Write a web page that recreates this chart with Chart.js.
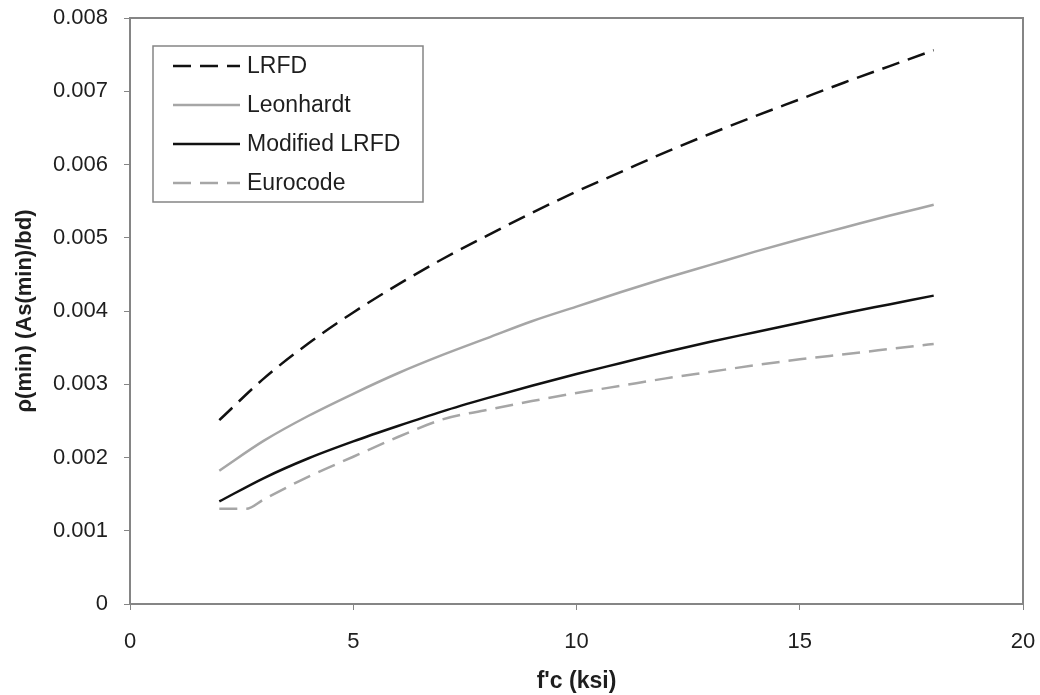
<!DOCTYPE html>
<html>
<head>
<style>
  body { margin: 0; background: #fff; }
</style>
</head>
<body>

<canvas id="myChart" width="1040" height="695"></canvas>

<script src="https://cdn.jsdelivr.net/npm/chart.js"></script>
<script>
// f'c values (ksi) and minimum reinforcement ratios
const fc = [2, 3, 4, 5, 6, 7, 8, 9, 10, 11, 12, 13, 14, 15, 16, 17, 18];
const lrfd = [0.00251, 0.00308, 0.00356, 0.00398, 0.00436, 0.00471, 0.00503, 0.00534, 0.00563,
              0.00590, 0.00617, 0.00642, 0.00666, 0.00689, 0.00712, 0.00734, 0.00756];
const leonhardt = [0.00182, 0.00223, 0.00257, 0.00287, 0.00315, 0.00340, 0.00363, 0.00386, 0.00406,
                   0.00426, 0.00445, 0.00463, 0.00481, 0.00498, 0.00514, 0.00530, 0.00545];
const modLrfd = [0.00140, 0.00172, 0.00199, 0.00222, 0.00243, 0.00263, 0.00281, 0.00298, 0.00314,
                 0.00329, 0.00344, 0.00358, 0.00371, 0.00384, 0.00397, 0.00409, 0.00421];
const fcEuro = [2, 2.6, 3, 4, 5, 6, 7, 8, 9, 10, 11, 12, 13, 14, 15, 16, 17, 18];
const eurocode = [0.00130, 0.00130, 0.00143, 0.00174, 0.00201, 0.00228, 0.00252, 0.00265, 0.00277,
                  0.00288, 0.00298, 0.00308, 0.00317, 0.00326, 0.00334, 0.00341, 0.00348, 0.00355];
const xTicks = [0, 5, 10, 15, 20];
const yTicks = [0, 0.001, 0.002, 0.003, 0.004, 0.005, 0.006, 0.007, 0.008];

const pts = (xs, ys) => xs.map((x, i) => ({x: x, y: ys[i]}));

const GRAY = '#a6a6a6';
const AXIS = '#858585';
const TEXT = '#1e1e1e';
const FONT = "'Liberation Sans', Arial, sans-serif";

// legend drawn inside the plot area with a box around it
const boxLegend = {
    id: 'boxLegend',
    afterDraw(chart) {
        const c = chart.ctx;
        const area = chart.chartArea;
        c.save();
        // frame top and right of the plot
        c.strokeStyle = AXIS;
        c.lineWidth = 2;
        c.beginPath();
        c.moveTo(area.left, area.top);
        c.lineTo(area.right, area.top);
        c.lineTo(area.right, area.bottom);
        c.stroke();

        c.fillStyle = '#fff';
        c.fillRect(153, 46, 270, 156);
        c.strokeStyle = AXIS;
        c.lineWidth = 1.5;
        c.strokeRect(153, 46, 270, 156);
        c.font = '23px ' + FONT;
        c.textBaseline = 'middle';
        const rows = [66, 105, 144, 183];
        chart.data.datasets.forEach((ds, i) => {
            const y = rows[i];
            c.strokeStyle = ds.borderColor;
            c.lineWidth = ds.borderWidth;
            c.setLineDash(ds.borderDash || []);
            c.beginPath();
            c.moveTo(173, y);
            c.lineTo(240, y);
            c.stroke();
            c.setLineDash([]);
            c.fillStyle = TEXT;
            c.fillText(ds.label, 247, y + 1);
        });
        c.restore();
    }
};

const ctx = document.getElementById('myChart').getContext('2d');
const myChart = new Chart(ctx, {
    type: 'line',
    data: {
        datasets: [
            {
                label: 'LRFD',
                data: pts(fc, lrfd),
                borderColor: '#111',
                borderWidth: 2.5,
                borderDash: [18, 9]
            },
            {
                label: 'Leonhardt',
                data: pts(fc, leonhardt),
                borderColor: GRAY,
                borderWidth: 2.5
            },
            {
                label: 'Modified LRFD',
                data: pts(fc, modLrfd),
                borderColor: '#111',
                borderWidth: 2.5
            },
            {
                label: 'Eurocode',
                data: pts(fcEuro, eurocode),
                borderColor: GRAY,
                borderWidth: 2.5,
                borderDash: [18, 9]
            }
        ]
    },
    options: {
        responsive: false,
        animation: false,
        devicePixelRatio: 1,
        layout: { padding: { top: 18, right: 17, left: 0, bottom: 0 } },
        elements: {
            point: { radius: 0 },
            line: { cubicInterpolationMode: 'monotone', fill: false }
        },
        plugins: {
            legend: { display: false },
            tooltip: { enabled: false }
        },
        scales: {
            x: {
                type: 'linear',
                min: 0,
                max: 20,
                afterBuildTicks: s => { s.ticks = xTicks.map(v => ({value: v})); },
                afterFit: s => { s.height = 91; s.paddingLeft = 0; s.paddingRight = 0; },
                grid: { drawOnChartArea: false, tickLength: 6, tickColor: AXIS },
                border: { color: AXIS, width: 2 },
                ticks: {
                    padding: 19,
                    color: TEXT,
                    font: { family: FONT, size: 22 },
                    maxRotation: 0
                },
                title: {
                    display: true,
                    text: "f'c (ksi)",
                    color: TEXT,
                    font: { family: FONT, size: 23, weight: 'bold' },
                    padding: { top: 0, bottom: 0 }
                }
            },
            y: {
                min: 0,
                max: 0.008,
                afterBuildTicks: s => { s.ticks = yTicks.map(v => ({value: v})); },
                afterFit: s => { s.width = 130; s.paddingTop = 0; s.paddingBottom = 0; },
                grid: { drawOnChartArea: false, tickLength: 6, tickColor: AXIS },
                border: { color: AXIS, width: 2 },
                ticks: {
                    padding: 16,
                    color: TEXT,
                    font: { family: FONT, size: 22 },
                    callback: v => v === 0 ? '0' : v.toFixed(3)
                },
                title: {
                    display: true,
                    text: 'ρ(min) (As(min)/bd)',
                    color: TEXT,
                    font: { family: FONT, size: 22, weight: 'bold' },
                    padding: { top: 12, bottom: 0 }
                }
            }
        }
    },
    plugins: [boxLegend]
});
</script>

</body>
</html>
